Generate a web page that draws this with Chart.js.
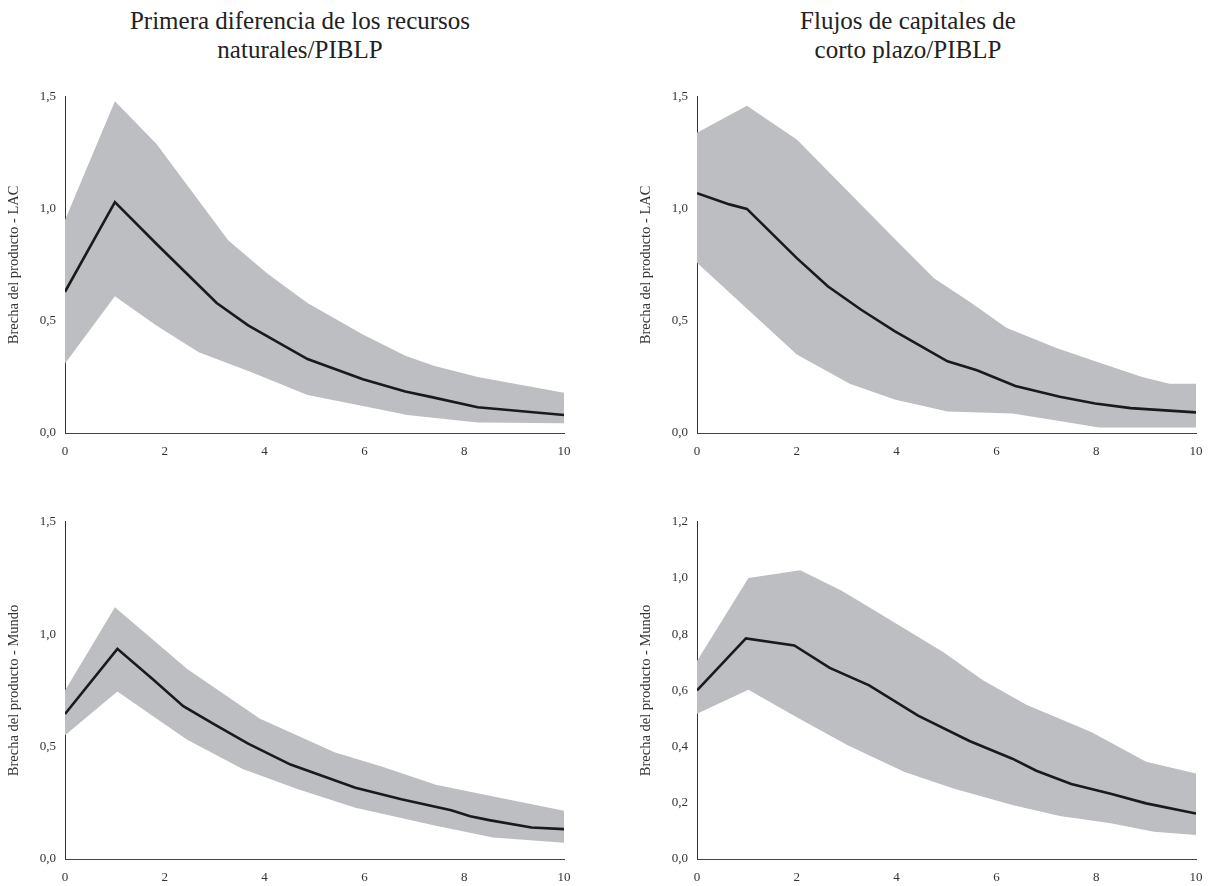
<!DOCTYPE html>
<html>
<head>
<meta charset="utf-8">
<script src="https://cdn.jsdelivr.net/npm/chart.js@4.4.1/dist/chart.umd.min.js"></script>
<style>
  body { margin: 0; background: #fff; width: 1216px; height: 886px; position: relative; overflow: hidden; }
  .title { position: absolute; top: 6px; font-family: 'Liberation Serif', serif; font-size: 25px; line-height: 29px; color: #222; text-align: center; }
  .box { position: absolute; }
</style>
</head>
<body>

<div class="title" style="left:0; width:600px;">Primera diferencia de los recursos<br>naturales/PIBLP</div>
<div class="title" style="left:608px; width:600px;">Flujos de capitales de<br>corto plazo/PIBLP</div>

<div class="box" style="left:0; top:80px; width:600px; height:380px;"><canvas id="nrLac"></canvas></div>
<div class="box" style="left:632px; top:80px; width:584px; height:380px;"><canvas id="cfLac"></canvas></div>
<div class="box" style="left:0; top:505px; width:600px; height:381px;"><canvas id="nrWld"></canvas></div>
<div class="box" style="left:632px; top:505px; width:584px; height:381px;"><canvas id="cfWld"></canvas></div>

<script>
// recursos naturales - LAC
const nrLacLineX = [0, 1, 1.85, 3.04, 3.67, 4.86, 5.97, 6.82, 7.35, 8.27, 10];
const nrLacLineY = [0.63, 1.03, 0.84, 0.58, 0.48, 0.33, 0.24, 0.185, 0.16, 0.115, 0.08];
const nrLacUpX = [0, 1, 1.83, 3.27, 4.06, 4.86, 5.97, 6.82, 7.39, 8.27, 10];
const nrLacUpY = [0.95, 1.48, 1.29, 0.86, 0.71, 0.58, 0.44, 0.345, 0.30, 0.25, 0.18];
const nrLacLoX = [0, 1, 1.83, 2.68, 3.75, 4.86, 5.97, 6.86, 8.27, 10];
const nrLacLoY = [0.31, 0.61, 0.48, 0.36, 0.27, 0.17, 0.12, 0.08, 0.047, 0.043];

// flujos de capitales - LAC
const cfLacLineX = [0, 0.65, 1, 2, 2.62, 3.29, 3.96, 5.02, 5.61, 6.38, 7.27, 7.98, 8.69, 10];
const cfLacLineY = [1.07, 1.02, 1.0, 0.78, 0.655, 0.55, 0.455, 0.32, 0.28, 0.21, 0.162, 0.132, 0.111, 0.092];
const cfLacUpX = [0, 1, 2, 3.88, 4.75, 5.5, 6.2, 7.19, 7.98, 8.92, 9.47, 10];
const cfLacUpY = [1.34, 1.46, 1.31, 0.885, 0.69, 0.58, 0.47, 0.38, 0.32, 0.25, 0.22, 0.22];
const cfLacLoX = [0, 2, 3.06, 3.96, 5.02, 6.32, 7.23, 8.06, 10];
const cfLacLoY = [0.76, 0.35, 0.22, 0.15, 0.096, 0.087, 0.055, 0.025, 0.025];

// recursos naturales - Mundo
const nrWldLineX = [0, 1.05, 1.76, 2.37, 3.02, 3.67, 4.52, 5.82, 6.74, 7.74, 8.12, 8.5, 9.35, 10];
const nrWldLineY = [0.645, 0.935, 0.80, 0.68, 0.595, 0.513, 0.42, 0.317, 0.266, 0.217, 0.19, 0.173, 0.14, 0.133];
const nrWldUpX = [0, 1, 2.45, 3.9, 5.4, 6.36, 7.43, 8.66, 10];
const nrWldUpY = [0.75, 1.12, 0.845, 0.625, 0.475, 0.41, 0.33, 0.275, 0.215];
const nrWldLoX = [0, 1.05, 1.83, 2.45, 3.56, 4.67, 5.82, 7.43, 8.58, 10];
const nrWldLoY = [0.55, 0.745, 0.625, 0.53, 0.40, 0.31, 0.228, 0.148, 0.096, 0.072];

// flujos de capitales - Mundo
const cfWldLineX = [0, 0.98, 1.95, 2.66, 3.45, 4.43, 5.46, 6.32, 6.8, 7.5, 8.29, 9.0, 10];
const cfWldLineY = [0.60, 0.785, 0.76, 0.68, 0.618, 0.51, 0.42, 0.357, 0.314, 0.267, 0.232, 0.198, 0.162];
const cfWldUpX = [0, 1.03, 2.07, 2.9, 3.6, 4.94, 5.73, 6.6, 7.9, 9.0, 10];
const cfWldUpY = [0.705, 1.0, 1.028, 0.955, 0.88, 0.736, 0.636, 0.549, 0.452, 0.346, 0.304];
const cfWldLoX = [0, 1.03, 1.99, 3.02, 4.16, 5.14, 6.32, 7.27, 8.29, 9.16, 10];
const cfWldLoY = [0.517, 0.602, 0.505, 0.405, 0.31, 0.251, 0.192, 0.153, 0.127, 0.097, 0.085];

const xTicks = [0, 2, 4, 6, 8, 10];

Chart.defaults.font.family = "'Liberation Serif', serif";
Chart.defaults.color = '#333';

function pts(xs, ys) {
    return xs.map((x, i) => ({x: x, y: ys[i]}));
}

function drawPanel(id, line, up, lo, yMax, yStep, yTitle, topPad) {
    new Chart(document.getElementById(id), {
        type: 'line',
        data: {
            datasets: [
                {
                    data: line,
                    borderColor: '#1a1a1a',
                    borderWidth: 2.6,
                    pointRadius: 0,
                    fill: false
                },
                {
                    data: up,
                    borderWidth: 0,
                    borderColor: 'rgba(0,0,0,0)',
                    backgroundColor: '#bdbec1',
                    pointRadius: 0,
                    fill: '+1'
                },
                {
                    data: lo,
                    borderWidth: 0,
                    borderColor: 'rgba(0,0,0,0)',
                    pointRadius: 0,
                    fill: false
                }
            ]
        },
        options: {
            responsive: true,
            maintainAspectRatio: false,
            animation: false,
            layout: {
                padding: {left: 0, right: id.startsWith('cf') ? 20 : 36, top: topPad, bottom: 0}
            },
            plugins: {
                legend: {display: false},
                tooltip: {enabled: false}
            },
            scales: {
                x: {
                    type: 'linear',
                    min: 0,
                    max: 10,
                    afterBuildTicks: (s) => { s.ticks = xTicks.map(v => ({value: v})); },
                    afterFit: (s) => { s.height = 27; },
                    grid: {display: false, drawTicks: false},
                    border: {color: '#444', width: 1},
                    ticks: {padding: 11, font: {size: 13}, maxRotation: 0}
                },
                y: {
                    min: 0,
                    max: yMax,
                    afterFit: (s) => { s.width = 65; },
                    grid: {display: false, drawTicks: false},
                    border: {color: '#333', width: 1},
                    ticks: {
                        stepSize: yStep,
                        padding: 9,
                        font: {size: 13},
                        callback: (v) => v.toFixed(1).replace('.', ',')
                    },
                    title: {
                        display: true,
                        text: yTitle,
                        font: {size: 14.5},
                        padding: {top: 5, bottom: 0}
                    }
                }
            }
        }
    });
}

drawPanel('nrLac', pts(nrLacLineX, nrLacLineY), pts(nrLacUpX, nrLacUpY), pts(nrLacLoX, nrLacLoY), 1.5, 0.5, 'Brecha del producto - LAC', 14);
drawPanel('cfLac', pts(cfLacLineX, cfLacLineY), pts(cfLacUpX, cfLacUpY), pts(cfLacLoX, cfLacLoY), 1.5, 0.5, 'Brecha del producto - LAC', 14);
drawPanel('nrWld', pts(nrWldLineX, nrWldLineY), pts(nrWldUpX, nrWldUpY), pts(nrWldLoX, nrWldLoY), 1.5, 0.5, 'Brecha del producto - Mundo', 16);
drawPanel('cfWld', pts(cfWldLineX, cfWldLineY), pts(cfWldUpX, cfWldUpY), pts(cfWldLoX, cfWldLoY), 1.2, 0.2, 'Brecha del producto - Mundo', 16);
</script>
</body>
</html>
